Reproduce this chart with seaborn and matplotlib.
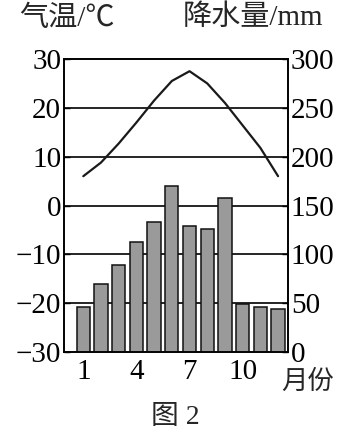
import matplotlib
matplotlib.use("Agg")
import matplotlib.pyplot as plt
import seaborn as sns
import pandas as pd

months = [1, 2, 3, 4, 5, 6, 7, 8, 9, 10, 11, 12]
temperature = [6, 8.8, 12.7, 17, 21.5, 25.5, 27.5, 25, 21, 16.4, 11.8, 6]
precipitation = [46, 70, 89, 113, 133, 170, 129, 126, 158, 49, 46, 44]
temp_ticks = [-30, -20, -10, 0, 10, 20, 30]
precip_ticks = [0, 50, 100, 150, 200, 250, 300]
month_ticks = [1, 4, 7, 10]

df = pd.DataFrame({"month": months, "temp": temperature, "precip": precipitation})

sns.set_theme(style="white")
plt.rcParams['font.family'] = ['Liberation Serif', 'Noto Sans CJK SC']
plt.rcParams['axes.unicode_minus'] = True

W, H = 352, 433
fig = plt.figure(figsize=(W / 100, H / 100), dpi=100)
L, R, T, B = 64, 288, 59, 352
ax = fig.add_axes([L / W, 1 - B / H, (R - L) / W, (B - T) / H])
ax2 = ax.twinx()

# grid lines on temperature axis
for v in temp_ticks[1:-1]:
    ax.axhline(v, color='black', lw=1.2, zorder=1)

sns.lineplot(data=df, x="month", y="temp", ax=ax, color='#1a1a1a', lw=1.6, zorder=3)

sns.barplot(data=df, x="month", y="precip", ax=ax2, native_scale=True, width=0.75,
            color='#9a9a9a', saturation=1, edgecolor='#111111', linewidth=1.1, zorder=2)

xlim = (-0.09, 12.56)
ax.set_xlim(*xlim)
ax2.set_xlim(*xlim)
ax.set_ylim(-30, 30)
ax2.set_ylim(0, 300)

ax.set_yticks(temp_ticks)
ax2.set_yticks(precip_ticks)
ax.set_xticks(month_ticks)
ax2.set_xticks(month_ticks)
ax.set_xticklabels([str(m) for m in month_ticks])

for a in (ax, ax2):
    a.set_xlabel("")
    a.set_ylabel("")
    for s in a.spines.values():
        s.set_color('black')
        s.set_linewidth(1.2)

ax.tick_params(axis='y', direction='in', length=4, width=1.0, colors='black',
               labelsize=21, pad=2)
ax2.tick_params(axis='y', direction='in', length=4, width=1.0, colors='black',
                labelsize=21, pad=2)
ax.tick_params(axis='x', length=0, labelsize=21, pad=5, colors='black')
ax2.tick_params(axis='x', length=0)

ax.set_zorder(0)
ax2.set_zorder(1)
ax2.patch.set_visible(False)

fam = ['Liberation Serif', 'Noto Sans CJK SC']
fig.text(67 / W, 1 - 19 / H, "气温/℃", ha='center', va='center', fontsize=21,
         family=fam)
fig.text(253 / W, 1 - 18 / H, "降水量/mm", ha='center', va='center', fontsize=21,
         family=fam)
fig.text(308 / W, 1 - 382 / H, "月份", ha='center', va='center', fontsize=19,
         family=fam)
fig.text(175 / W, 1 - 418 / H, "图 2", ha='center', va='center', fontsize=20,
         family=fam)

fig.savefig("out.png", dpi=100, facecolor='white')
